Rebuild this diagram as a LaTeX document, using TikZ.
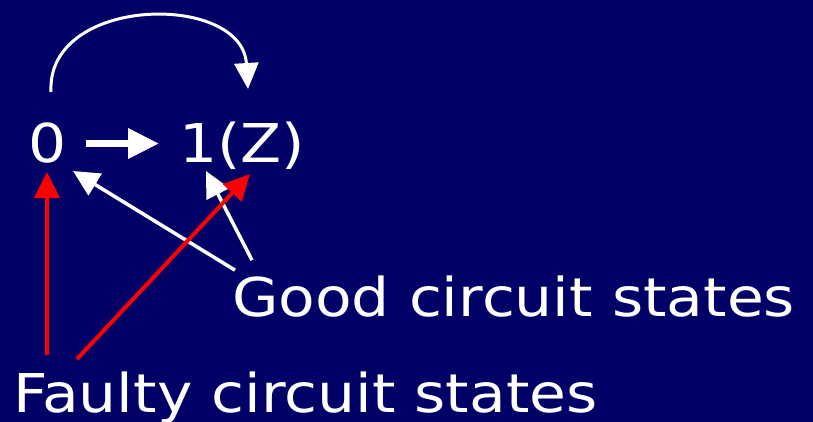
\documentclass[tikz,border=0pt]{standalone}
\usepackage{fontspec}
\setmainfont{DejaVu Sans}[FakeStretch=1.12]
\usepackage{tikz}
\usetikzlibrary{arrows.meta,positioning,calc}
\definecolor{slidebg}{RGB}{0,0,102}

\begin{document}
\begin{tikzpicture}[x=1pt,y=-1pt,
  lbl/.style={text=white,inner sep=0pt,anchor=base west,font=\fontsize{53.5}{60}\selectfont},
  goodarrow/.style={draw=white,line width=3.5pt,-{Triangle[length=26pt,width=25pt]}},
  faultarrow/.style={draw=red,line width=4pt,-{Triangle[length=26pt,width=25pt]}},
  steparrow/.style={draw=white,line width=7pt,-{Triangle[length=31pt,width=29pt]}}]
\useasboundingbox (0,0) rectangle (813,422);
\fill[slidebg] (0,0) rectangle (813,422);

% states
\node[lbl] (zero) at (28,163) {0};
\node[lbl] (one) at (179,163) {1(Z)};

% labels
\node[lbl] (good) at (232,316) {Good circuit states};
\node[lbl] (faulty) at (13,412) {Faulty circuit states};

% arrow ends
\coordinate (loopstart) at (51,92);
\coordinate (looptip) at (248,89);
\coordinate (zerotip) at (73,171);
\coordinate (onetip) at (206,171);
\coordinate (zerored) at (47,172);
\coordinate (onered) at (250,174);

% transitions
\draw[steparrow] ([xshift=19pt]zero.east) -- ([xshift=-20pt]zero.east -| one.west);
\draw[white,line width=3pt,-{Triangle[length=26pt,width=24pt]}]
  (loopstart) .. controls (46,-5) and (242,-8) .. (looptip);

% good circuit
\draw[goodarrow] (good.north west) ++(3,-5) coordinate (goodA) (goodA) -- (zerotip);
\draw[goodarrow] (good.north west) ++(20,-15) coordinate (goodB) (goodB) -- (onetip);

% faulty circuit
\draw[faultarrow] (faulty.north west) ++(34,-16) coordinate (faultA) (faultA) -- (zerored);
\draw[faultarrow] (faulty.north west) ++(64,-12) coordinate (faultB) (faultB) -- (onered);
\end{tikzpicture}
\end{document}
